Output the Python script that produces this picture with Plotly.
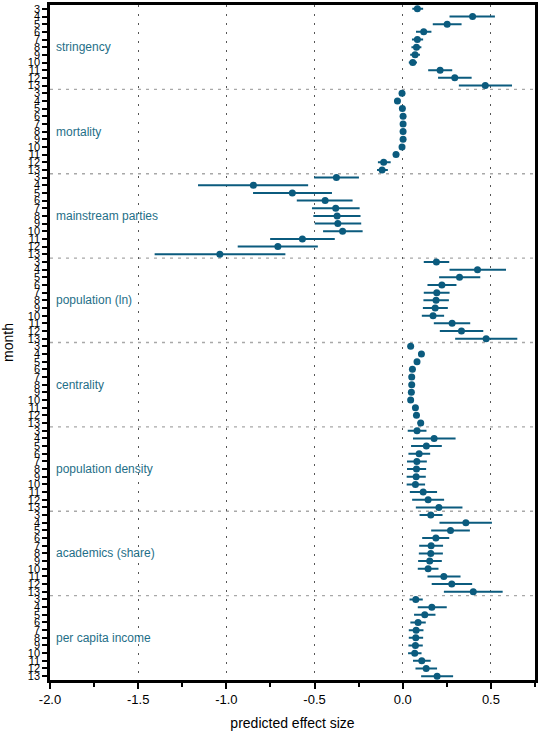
import plotly.graph_objects as go

months = [3, 4, 5, 6, 7, 8, 9, 10, 11, 12, 13]
groups = ["stringency", "mortality", "mainstream parties", "population (ln)",
          "centrality", "population density", "academics (share)", "per capita income"]

est_stringency = [0.083, 0.396, 0.252, 0.119, 0.083, 0.078, 0.070, 0.057, 0.212, 0.295, 0.468]
lo_stringency = [0.060, 0.271, 0.176, 0.081, 0.058, 0.055, 0.048, 0.040, 0.150, 0.206, 0.324]
hi_stringency = [0.110, 0.517, 0.328, 0.157, 0.110, 0.100, 0.092, 0.075, 0.275, 0.385, 0.614]

est_mortality = [-0.004, -0.030, -0.002, 0.002, 0.002, 0.002, 0.002, -0.004, -0.038, -0.108, -0.117]
lo_mortality = [-0.012, -0.040, -0.010, -0.006, -0.006, -0.006, -0.006, -0.012, -0.050, -0.135, -0.140]
hi_mortality = [0.004, -0.020, 0.006, 0.010, 0.010, 0.010, 0.010, 0.004, -0.026, -0.074, -0.090]

est_mainstream = [-0.376, -0.847, -0.626, -0.440, -0.380, -0.372, -0.368, -0.341, -0.569, -0.708, -1.037]
lo_mainstream = [-0.497, -1.155, -0.843, -0.595, -0.509, -0.501, -0.493, -0.446, -0.746, -0.930, -1.401]
hi_mainstream = [-0.254, -0.542, -0.407, -0.290, -0.250, -0.245, -0.241, -0.233, -0.391, -0.487, -0.671]

est_population = [0.191, 0.424, 0.322, 0.222, 0.193, 0.189, 0.184, 0.172, 0.280, 0.333, 0.473]
lo_population = [0.125, 0.271, 0.212, 0.146, 0.125, 0.123, 0.120, 0.114, 0.182, 0.216, 0.303]
hi_population = [0.258, 0.580, 0.434, 0.299, 0.260, 0.256, 0.250, 0.229, 0.377, 0.451, 0.644]

est_centrality = [0.045, 0.106, 0.081, 0.055, 0.051, 0.051, 0.049, 0.045, 0.072, 0.078, 0.102]
lo_centrality = [0.037, 0.096, 0.072, 0.047, 0.043, 0.043, 0.041, 0.037, 0.063, 0.068, 0.090]
hi_centrality = [0.053, 0.116, 0.090, 0.063, 0.059, 0.059, 0.057, 0.053, 0.081, 0.088, 0.114]

est_density = [0.081, 0.178, 0.134, 0.093, 0.080, 0.078, 0.076, 0.072, 0.116, 0.144, 0.205]
lo_density = [0.034, 0.064, 0.053, 0.038, 0.030, 0.030, 0.028, 0.028, 0.046, 0.059, 0.080]
hi_density = [0.129, 0.294, 0.216, 0.150, 0.131, 0.127, 0.125, 0.121, 0.189, 0.229, 0.333]

est_academics = [0.159, 0.358, 0.271, 0.188, 0.161, 0.159, 0.153, 0.144, 0.233, 0.278, 0.400]
lo_academics = [0.101, 0.214, 0.167, 0.116, 0.099, 0.097, 0.093, 0.091, 0.146, 0.170, 0.239]
hi_academics = [0.220, 0.500, 0.375, 0.258, 0.223, 0.222, 0.216, 0.197, 0.322, 0.388, 0.561]

est_income = [0.074, 0.165, 0.125, 0.087, 0.076, 0.074, 0.072, 0.068, 0.108, 0.133, 0.195]
lo_income = [0.044, 0.091, 0.070, 0.049, 0.040, 0.040, 0.038, 0.036, 0.064, 0.078, 0.110]
hi_income = [0.108, 0.244, 0.180, 0.125, 0.112, 0.110, 0.108, 0.101, 0.153, 0.189, 0.280]

est_all = [est_stringency, est_mortality, est_mainstream, est_population,
           est_centrality, est_density, est_academics, est_income]
lo_all = [lo_stringency, lo_mortality, lo_mainstream, lo_population,
          lo_centrality, lo_density, lo_academics, lo_income]
hi_all = [hi_stringency, hi_mortality, hi_mainstream, hi_population,
          hi_centrality, hi_density, hi_academics, hi_income]

DOT = "#0b5b7e"
TXT = "#1f6f88"
n = len(months)

fig = go.Figure()
for g, (name, est, lo, hi) in enumerate(zip(groups, est_all, lo_all, hi_all)):
    ys = [g * n + i for i in range(n)]
    fig.add_trace(go.Scatter(
        x=est, y=ys, mode="markers",
        marker=dict(color=DOT, size=7),
        error_x=dict(type="data", symmetric=False,
                     array=[h - e for h, e in zip(hi, est)],
                     arrayminus=[e - l for e, l in zip(est, lo)],
                     color=DOT, thickness=2, width=1),
        showlegend=False, name=name))
    fig.add_annotation(x=-1.975, y=g * n + 5, text=name, showarrow=False,
                       xanchor="left", yanchor="middle",
                       font=dict(color=TXT, size=12, family="Liberation Sans, Arial"))
    if g > 0:
        fig.add_shape(type="line", xref="paper", x0=0, x1=1,
                      y0=g * n - 0.5, y1=g * n - 0.5,
                      line=dict(color="#a8a8a8", width=1.3, dash="3px,5px"), layer="below")

tickvals = list(range(n * len(groups)))
ticktext = [str(m) for _ in groups for m in months]

fig.update_layout(
    width=540, height=736,
    margin=dict(l=50, r=5, t=5, b=56, autoexpand=False),
    paper_bgcolor="white", plot_bgcolor="white",
    font=dict(family="Liberation Sans, Arial", color="black"),
    xaxis=dict(range=[-2.0, 0.75], tickvals=[-2.0, -1.5, -1.0, -0.5, 0.0, 0.5],
               ticktext=["-2.0", "-1.5", "-1.0", "-0.5", "0.0", "0.5"],
               ticks="outside", ticklen=6, tickwidth=2, tickcolor="black",
               minor=dict(tickvals=[-1.75, -1.25, -0.75, -0.25, 0.25, 0.75],
                          ticks="outside", ticklen=4, tickwidth=2, tickcolor="black",
                          showgrid=False),
               showgrid=True, gridcolor="#555555", griddash="2px,7px", gridwidth=1,
               showline=True, linecolor="black", linewidth=2.5, mirror=True,
               zeroline=False, tickfont=dict(size=13), automargin=False,
               title=dict(text="predicted effect size", font=dict(size=14), standoff=12)),
    yaxis=dict(range=[n * len(groups) - 0.5, -0.5], tickvals=tickvals, ticktext=ticktext,
               ticks="outside", ticklen=5, tickwidth=2, tickcolor="black",
               showgrid=False, zeroline=False, automargin=False,
               showline=True, linecolor="black", linewidth=2.5, mirror=True,
               tickfont=dict(size=11),
               title=dict(text="month", font=dict(size=14), standoff=12)),
)

fig.write_html("out.html", config={"displayModeBar": False},
               post_script="document.body.style.margin='0';")
